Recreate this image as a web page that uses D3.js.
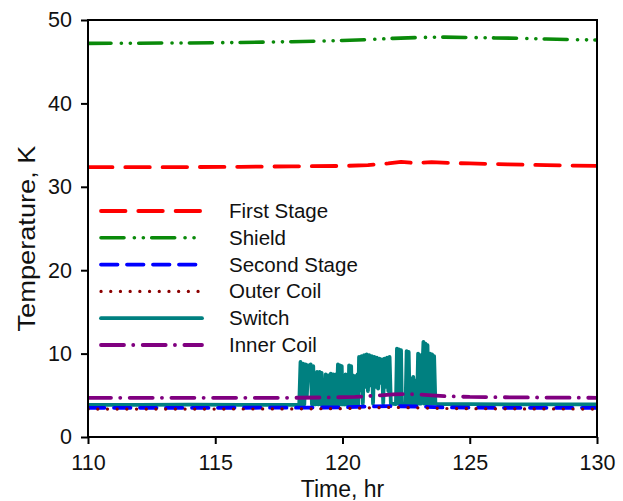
<!DOCTYPE html>
<html>
<head>
<meta charset="utf-8">
<script src="https://cdn.jsdelivr.net/npm/d3@7"></script>
<style>
  html, body { margin: 0; padding: 0; background: #fff; }
  svg { display: block; font-family: "Liberation Sans", Arial, Helvetica, sans-serif; }
</style>
</head>
<body>
<svg id="chart" width="623" height="501"></svg>
<script>
// ---------------- data ----------------
const xTicks = [110, 115, 120, 125, 130];
const yTicks = [0, 10, 20, 30, 40, 50];

const firstStageTime = [110, 113, 116, 118, 120, 121, 121.8, 122.3, 122.8, 123.5, 124.2, 125, 126.5, 128, 130];
const firstStageTemp = [32.35, 32.35, 32.4, 32.45, 32.5, 32.6, 32.8, 33.0, 32.85, 32.95, 32.85, 32.8, 32.7, 32.6, 32.5];

const shieldTime = [110, 112, 114, 116, 118, 119, 120, 121, 122, 123, 124, 125, 126, 127, 128, 129, 130];
const shieldTemp = [47.2, 47.22, 47.25, 47.3, 47.4, 47.45, 47.55, 47.65, 47.8, 47.9, 47.95, 47.9, 47.85, 47.8, 47.72, 47.65, 47.6];

const secondStageTime = [110, 115, 118, 120, 121, 122, 123, 124, 126, 130];
const secondStageTemp = [3.5, 3.5, 3.52, 3.55, 3.65, 3.7, 3.65, 3.55, 3.5, 3.5];

const outerCoilTime = [110, 115, 118, 120, 121, 122, 123, 124, 126, 130];
const outerCoilTemp = [3.35, 3.35, 3.37, 3.4, 3.5, 3.55, 3.5, 3.42, 3.38, 3.35];

const innerCoilTime = [110, 114, 118, 119.5, 120.5, 121, 121.5, 122, 122.5, 123, 123.5, 124, 125, 127, 130];
const innerCoilTemp = [4.7, 4.7, 4.7, 4.75, 4.8, 4.9, 5.0, 5.1, 5.15, 5.1, 5.0, 4.9, 4.8, 4.75, 4.7];

const switchTime = [
  110, 112, 114, 116, 118.28,
  118.30, 118.35, 118.40, 118.45, 118.50, 118.55, 118.60,
  118.65, 118.70, 118.75, 118.80, 118.85, 118.88,
  118.95,
  119.00, 119.05, 119.10, 119.15, 119.18, 119.21,
  119.30,
  119.34, 119.39, 119.44, 119.49, 119.54, 119.59, 119.64, 119.69, 119.74, 119.78,
  119.82, 119.86, 119.90, 119.94, 119.97, 120.00,
  120.04, 120.08, 120.12, 120.16, 120.20, 120.23,
  120.26, 120.30, 120.34, 120.37,
  120.41, 120.45, 120.50, 120.55, 120.59, 120.62,
  120.65, 120.70, 120.75, 120.80, 120.85, 120.90, 120.95, 121.00, 121.05, 121.10,
  121.15, 121.20, 121.25, 121.30, 121.35, 121.40, 121.45, 121.50, 121.55, 121.60,
  121.65, 121.70, 121.75, 121.80, 121.85, 121.90,
  122.10,
  122.14, 122.18, 122.22, 122.26, 122.30, 122.33,
  122.48,
  122.52, 122.56, 122.60, 122.64,
  122.68, 122.73, 122.78, 122.83, 122.88, 122.93,
  122.97, 123.01, 123.05, 123.09,
  123.18, 123.22, 123.26, 123.30, 123.34, 123.38,
  123.44, 123.48, 123.52, 123.56, 123.60, 123.65,
  123.75, 125, 127, 130
];
const switchTemp = [
  3.85, 3.85, 3.87, 3.85, 3.86,
  3.9, 9.0, 3.9, 8.8, 3.9, 8.7, 5.0,
  8.6, 7.2, 8.7, 3.9, 8.5, 3.9,
  3.9,
  7.8, 3.9, 7.8, 3.9, 7.7, 3.9,
  3.9,
  7.5, 3.9, 7.4, 3.9, 7.6, 3.9, 7.5, 3.9, 7.5, 3.9,
  8.7, 3.9, 8.6, 3.9, 8.5, 3.9,
  7.4, 3.9, 7.5, 3.9, 7.4, 3.9,
  8.6, 3.9, 8.5, 3.9,
  7.4, 3.9, 7.3, 3.9, 7.5, 3.9,
  9.6, 5.6, 9.7, 4.0, 9.8, 6.0, 9.9, 5.5, 9.8, 6.2,
  9.7, 4.0, 9.6, 6.0, 9.5, 5.8, 9.4, 6.5, 9.3, 4.0,
  9.4, 6.0, 9.5, 5.5, 9.6, 4.0,
  3.95,
  10.6, 4.0, 10.5, 4.0, 10.4, 4.0,
  4.0,
  10.3, 4.0, 10.2, 4.0,
  7.0, 4.0, 7.2, 4.0, 6.8, 4.0,
  10.0, 4.0, 9.8, 4.0,
  11.4, 4.0, 11.2, 4.0, 11.0, 4.0,
  10.0, 4.0, 9.9, 4.0, 9.7, 4.0,
  3.95, 3.95, 3.9, 3.9
];

const seriesNames = ["First Stage", "Shield", "Second Stage", "Outer Coil", "Switch", "Inner Coil"];

// ---------------- layout ----------------
const svg = d3.select("#chart");
const mLeft = 88, mRight = 597, mTop = 20, mBottom = 437;

const x = d3.scaleLinear().domain([110, 130]).range([mLeft, mRight]);
const y = d3.scaleLinear().domain([0, 50]).range([mBottom, mTop]);

const styles = {
  "First Stage":  { color: "#ff0000", width: 3.8, dash: "24.5 12.8", cap: "round" },
  "Shield":       { color: "#0a8a0a", width: 3.6, dash: "23 10.3 0.1 8.9 0.1 8.3", cap: "round" },
  "Second Stage": { color: "#0000ff", width: 3.8, dash: "16.5 9.5", cap: "round" },
  "Outer Coil":   { color: "#8b0000", width: 3.2, dash: "0.1 9.6", cap: "round" },
  "Switch":       { color: "#008080", width: 3.8, dash: null, cap: "round" },
  "Inner Coil":   { color: "#800080", width: 3.8, dash: "23 9.2 0.1 9.4", cap: "round" }
};

const seriesData = {
  "First Stage": firstStageTime.map((t, i) => [t, firstStageTemp[i]]),
  "Shield": shieldTime.map((t, i) => [t, shieldTemp[i]]),
  "Second Stage": secondStageTime.map((t, i) => [t, secondStageTemp[i]]),
  "Outer Coil": outerCoilTime.map((t, i) => [t, outerCoilTemp[i]]),
  "Switch": switchTime.map((t, i) => [t, switchTemp[i]]),
  "Inner Coil": innerCoilTime.map((t, i) => [t, innerCoilTemp[i]])
};

const line = d3.line().x(d => x(d[0])).y(d => y(d[1]));

svg.append("clipPath").attr("id", "clip")
  .append("rect").attr("x", mLeft).attr("y", mTop).attr("width", mRight - mLeft).attr("height", mBottom - mTop);

const plot = svg.append("g").attr("clip-path", "url(#clip)");
const drawOrder = ["Shield", "First Stage", "Switch", "Second Stage", "Outer Coil", "Inner Coil"];
drawOrder.forEach(name => {
  const s = styles[name];
  plot.append("path")
    .datum(seriesData[name])
    .attr("d", line)
    .attr("fill", "none")
    .attr("stroke", s.color)
    .attr("stroke-width", s.width)
    .attr("stroke-linecap", s.cap)
    .attr("stroke-linejoin", "round")
    .attr("stroke-dasharray", s.dash);
});

// frame
svg.append("rect")
  .attr("x", mLeft).attr("y", mTop).attr("width", mRight - mLeft).attr("height", mBottom - mTop)
  .attr("fill", "none").attr("stroke", "#000").attr("stroke-width", 2);

// axes
const xAxis = svg.append("g").attr("transform", `translate(0,${mBottom})`)
  .call(d3.axisBottom(x).tickValues(xTicks).tickSize(7).tickPadding(11).tickFormat(d3.format("d")));
const yAxis = svg.append("g").attr("transform", `translate(${mLeft},0)`)
  .call(d3.axisLeft(y).tickValues(yTicks).tickSize(7).tickPadding(9).tickFormat(d3.format("d")));
[xAxis, yAxis].forEach(a => {
  a.select(".domain").remove();
  a.selectAll(".tick line").attr("stroke", "#000").attr("stroke-width", 2);
  a.selectAll(".tick text").attr("fill", "#111").style("font-size", "21.5px")
    .style("font-family", "'Liberation Sans', Arial, sans-serif");
});

// axis titles
svg.append("text")
  .attr("x", (mLeft + mRight) / 2).attr("y", 497)
  .attr("text-anchor", "middle")
  .style("font-size", "23px").attr("fill", "#111")
  .text("Time, hr");
svg.append("text")
  .attr("transform", `translate(35,${(mTop + mBottom) / 2 + 10}) rotate(-90)`)
  .attr("text-anchor", "middle")
  .attr("textLength", 186).attr("lengthAdjust", "spacingAndGlyphs")
  .style("font-size", "23.5px").attr("fill", "#111")
  .text("Temperature, K");

// legend
const legendTop = 211, legendStep = 26.8;
const lg = svg.append("g");
seriesNames.forEach((name, i) => {
  const s = styles[name];
  const ly = legendTop + i * legendStep;
  lg.append("line")
    .attr("x1", 101).attr("x2", 202).attr("y1", ly).attr("y2", ly)
    .attr("stroke", s.color).attr("stroke-width", s.width)
    .attr("stroke-linecap", s.cap).attr("stroke-dasharray", s.dash);
  lg.append("text")
    .attr("x", 229).attr("y", ly + 7)
    .style("font-size", "20.5px").attr("fill", "#111")
    .text(name);
});
</script>
</body>
</html>
